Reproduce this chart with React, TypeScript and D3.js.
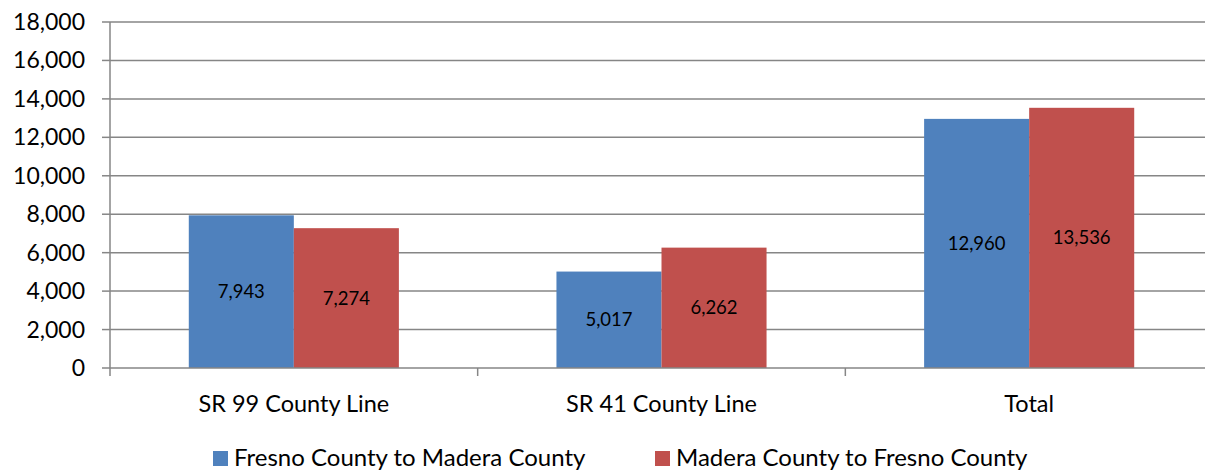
import React from "react";
import * as d3 from "d3";

const categories = ["SR 99 County Line", "SR 41 County Line", "Total"];
const seriesNames = ["Fresno County to Madera County", "Madera County to Fresno County"];
const fresnoToMadera = [7943, 5017, 12960];
const maderaToFresno = [7274, 6262, 13536];
const yTicks = [0, 2000, 4000, 6000, 8000, 10000, 12000, 14000, 16000, 18000];
const colors = ["#4F81BD", "#C0504D"];

const W = 1205;
const H = 472;
const FONT = "Lato, 'Open Sans', sans-serif";

export default function App() {
  const left = 110;
  const right = 1213;
  const top = 22;
  const bottom = 368;

  const x = d3.scaleBand<string>().domain(categories).range([left, right]);
  const y = d3.scaleLinear().domain([0, 18000]).range([bottom, top]);
  const bw = x.bandwidth() / 3.5;
  const fmt = d3.format(",");
  const series = [fresnoToMadera, maderaToFresno];
  const grid = "#868686";

  return (
    <svg
      width={W}
      height={H}
      style={{ position: "absolute", left: 0, top: 0, background: "#fff" }}
      fontFamily={FONT}
    >
      {yTicks.map((t) => (
        <g key={t}>
          {t > 0 && (
            <line x1={left} x2={right} y1={y(t)} y2={y(t)} stroke={grid} strokeWidth={1.5} />
          )}
          <line x1={left - 8} x2={left} y1={y(t)} y2={y(t)} stroke={grid} strokeWidth={1.5} />
          <text x={85} y={y(t)} dy="0.35em" textAnchor="end" fontSize={23} fill="#000">
            {fmt(t)}
          </text>
        </g>
      ))}
      {series.map((vals, si) =>
        categories.map((c, ci) => {
          const bx = (x(c) as number) + x.bandwidth() / 2 - bw + si * bw;
          const v = vals[ci];
          return (
            <g key={`${si}-${ci}`}>
              <rect x={bx} y={y(v)} width={bw} height={y(0) - y(v)} fill={colors[si]} />
              <text
                x={bx + bw / 2}
                y={(y(v) + y(0)) / 2}
                dy="0.35em"
                textAnchor="middle"
                fontSize={18.5}
                fill="#000"
              >
                {fmt(v)}
              </text>
            </g>
          );
        })
      )}
      <line x1={left} x2={left} y1={top} y2={bottom} stroke={grid} strokeWidth={1.5} />
      <line x1={left} x2={right} y1={bottom} y2={bottom} stroke={grid} strokeWidth={1.5} />
      {categories.map((c, i) => (
        <line
          key={`tk${i}`}
          x1={(x(c) as number)}
          x2={(x(c) as number)}
          y1={bottom}
          y2={bottom + 8}
          stroke={grid}
          strokeWidth={1.5}
        />
      ))}
      {categories.map((c) => (
        <text
          key={c}
          x={(x(c) as number) + x.bandwidth() / 2}
          y={412}
          textAnchor="middle"
          fontSize={23.5}
          fill="#000"
        >
          {c}
        </text>
      ))}
      {seriesNames.map((s, i) => {
        const lx = i === 0 ? 213 : 655;
        return (
          <g key={s}>
            <rect x={lx} y={451} width={15} height={15} fill={colors[i]} />
            <text x={lx + 21} y={466} fontSize={24} fill="#000">
              {s}
            </text>
          </g>
        );
      })}
    </svg>
  );
}
